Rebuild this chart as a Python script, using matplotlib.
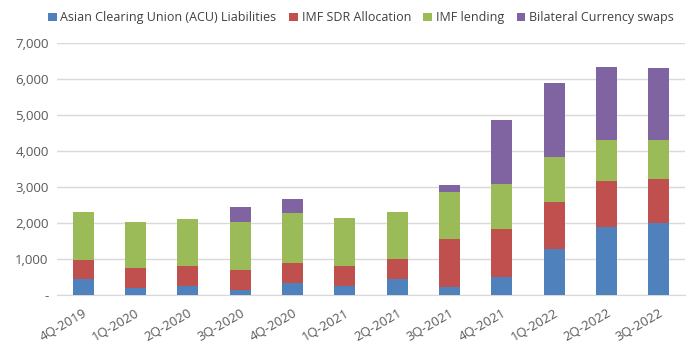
import matplotlib
matplotlib.use("Agg")
import matplotlib.pyplot as plt
import numpy as np

quarters = ["4Q-2019", "1Q-2020", "2Q-2020", "3Q-2020", "4Q-2020", "1Q-2021",
            "2Q-2021", "3Q-2021", "4Q-2021", "1Q-2022", "2Q-2022", "3Q-2022"]
acu = [445, 204, 260, 148, 334, 260, 445, 222, 501, 1279, 1891, 2003]
sdr = [528, 547, 547, 557, 547, 547, 556, 1336, 1335, 1308, 1280, 1223]
imf = [1335, 1279, 1307, 1325, 1400, 1335, 1307, 1307, 1251, 1251, 1140, 1085]
swaps = [0, 0, 0, 418, 389, 0, 0, 195, 1780, 2059, 2031, 2003]

series = [
    ("Asian Clearing Union (ACU) Liabilities", acu, "#4F81BD"),
    ("IMF SDR Allocation", sdr, "#C0504D"),
    ("IMF lending", imf, "#9BBB59"),
    ("Bilateral Currency swaps", swaps, "#8064A2"),
]

plt.rcParams['font.family'] = ['Open Sans', 'DejaVu Sans']

fig = plt.figure(figsize=(6.94, 3.52), dpi=100)
ax = fig.add_axes([0.082, 0.162, 0.905, 0.716])

x = np.arange(len(quarters))
bottom = np.zeros(len(quarters))
handles = []
for name, vals, col in series:
    v = np.array(vals, dtype=float)
    b = ax.bar(x, v, 0.4, bottom=bottom, color=col, label=name, zorder=3)
    handles.append(b)
    bottom += v

ax.set_xlim(-0.5, len(quarters) - 0.5)
ax.set_ylim(0, 7000)
yt = np.arange(0, 7001, 1000)
ax.set_yticks(yt)
ax.set_yticklabels(["-" if t == 0 else f"{t:,}" for t in yt], fontsize=9.5, color="#595959")
ax.set_xticks(x)
ax.set_xticklabels(quarters, rotation=30, ha="right", rotation_mode="anchor",
                   fontsize=9.5, color="#595959")
ax.tick_params(axis='both', length=0, pad=6)
ax.tick_params(axis='x', pad=8)
ax.grid(axis='y', color="#D9D9D9", linewidth=1, zorder=0)
for s in ["top", "right", "left"]:
    ax.spines[s].set_visible(False)
ax.spines["bottom"].set_color("#D9D9D9")

fig.legend(handles=handles, loc="upper center", bbox_to_anchor=(0.52, 1.0), ncol=4,
           frameon=False, fontsize=9, handlelength=0.7, handleheight=0.7,
           handletextpad=0.3, columnspacing=1.0, labelcolor="#404040")

fig.savefig("out.png", dpi=100)
